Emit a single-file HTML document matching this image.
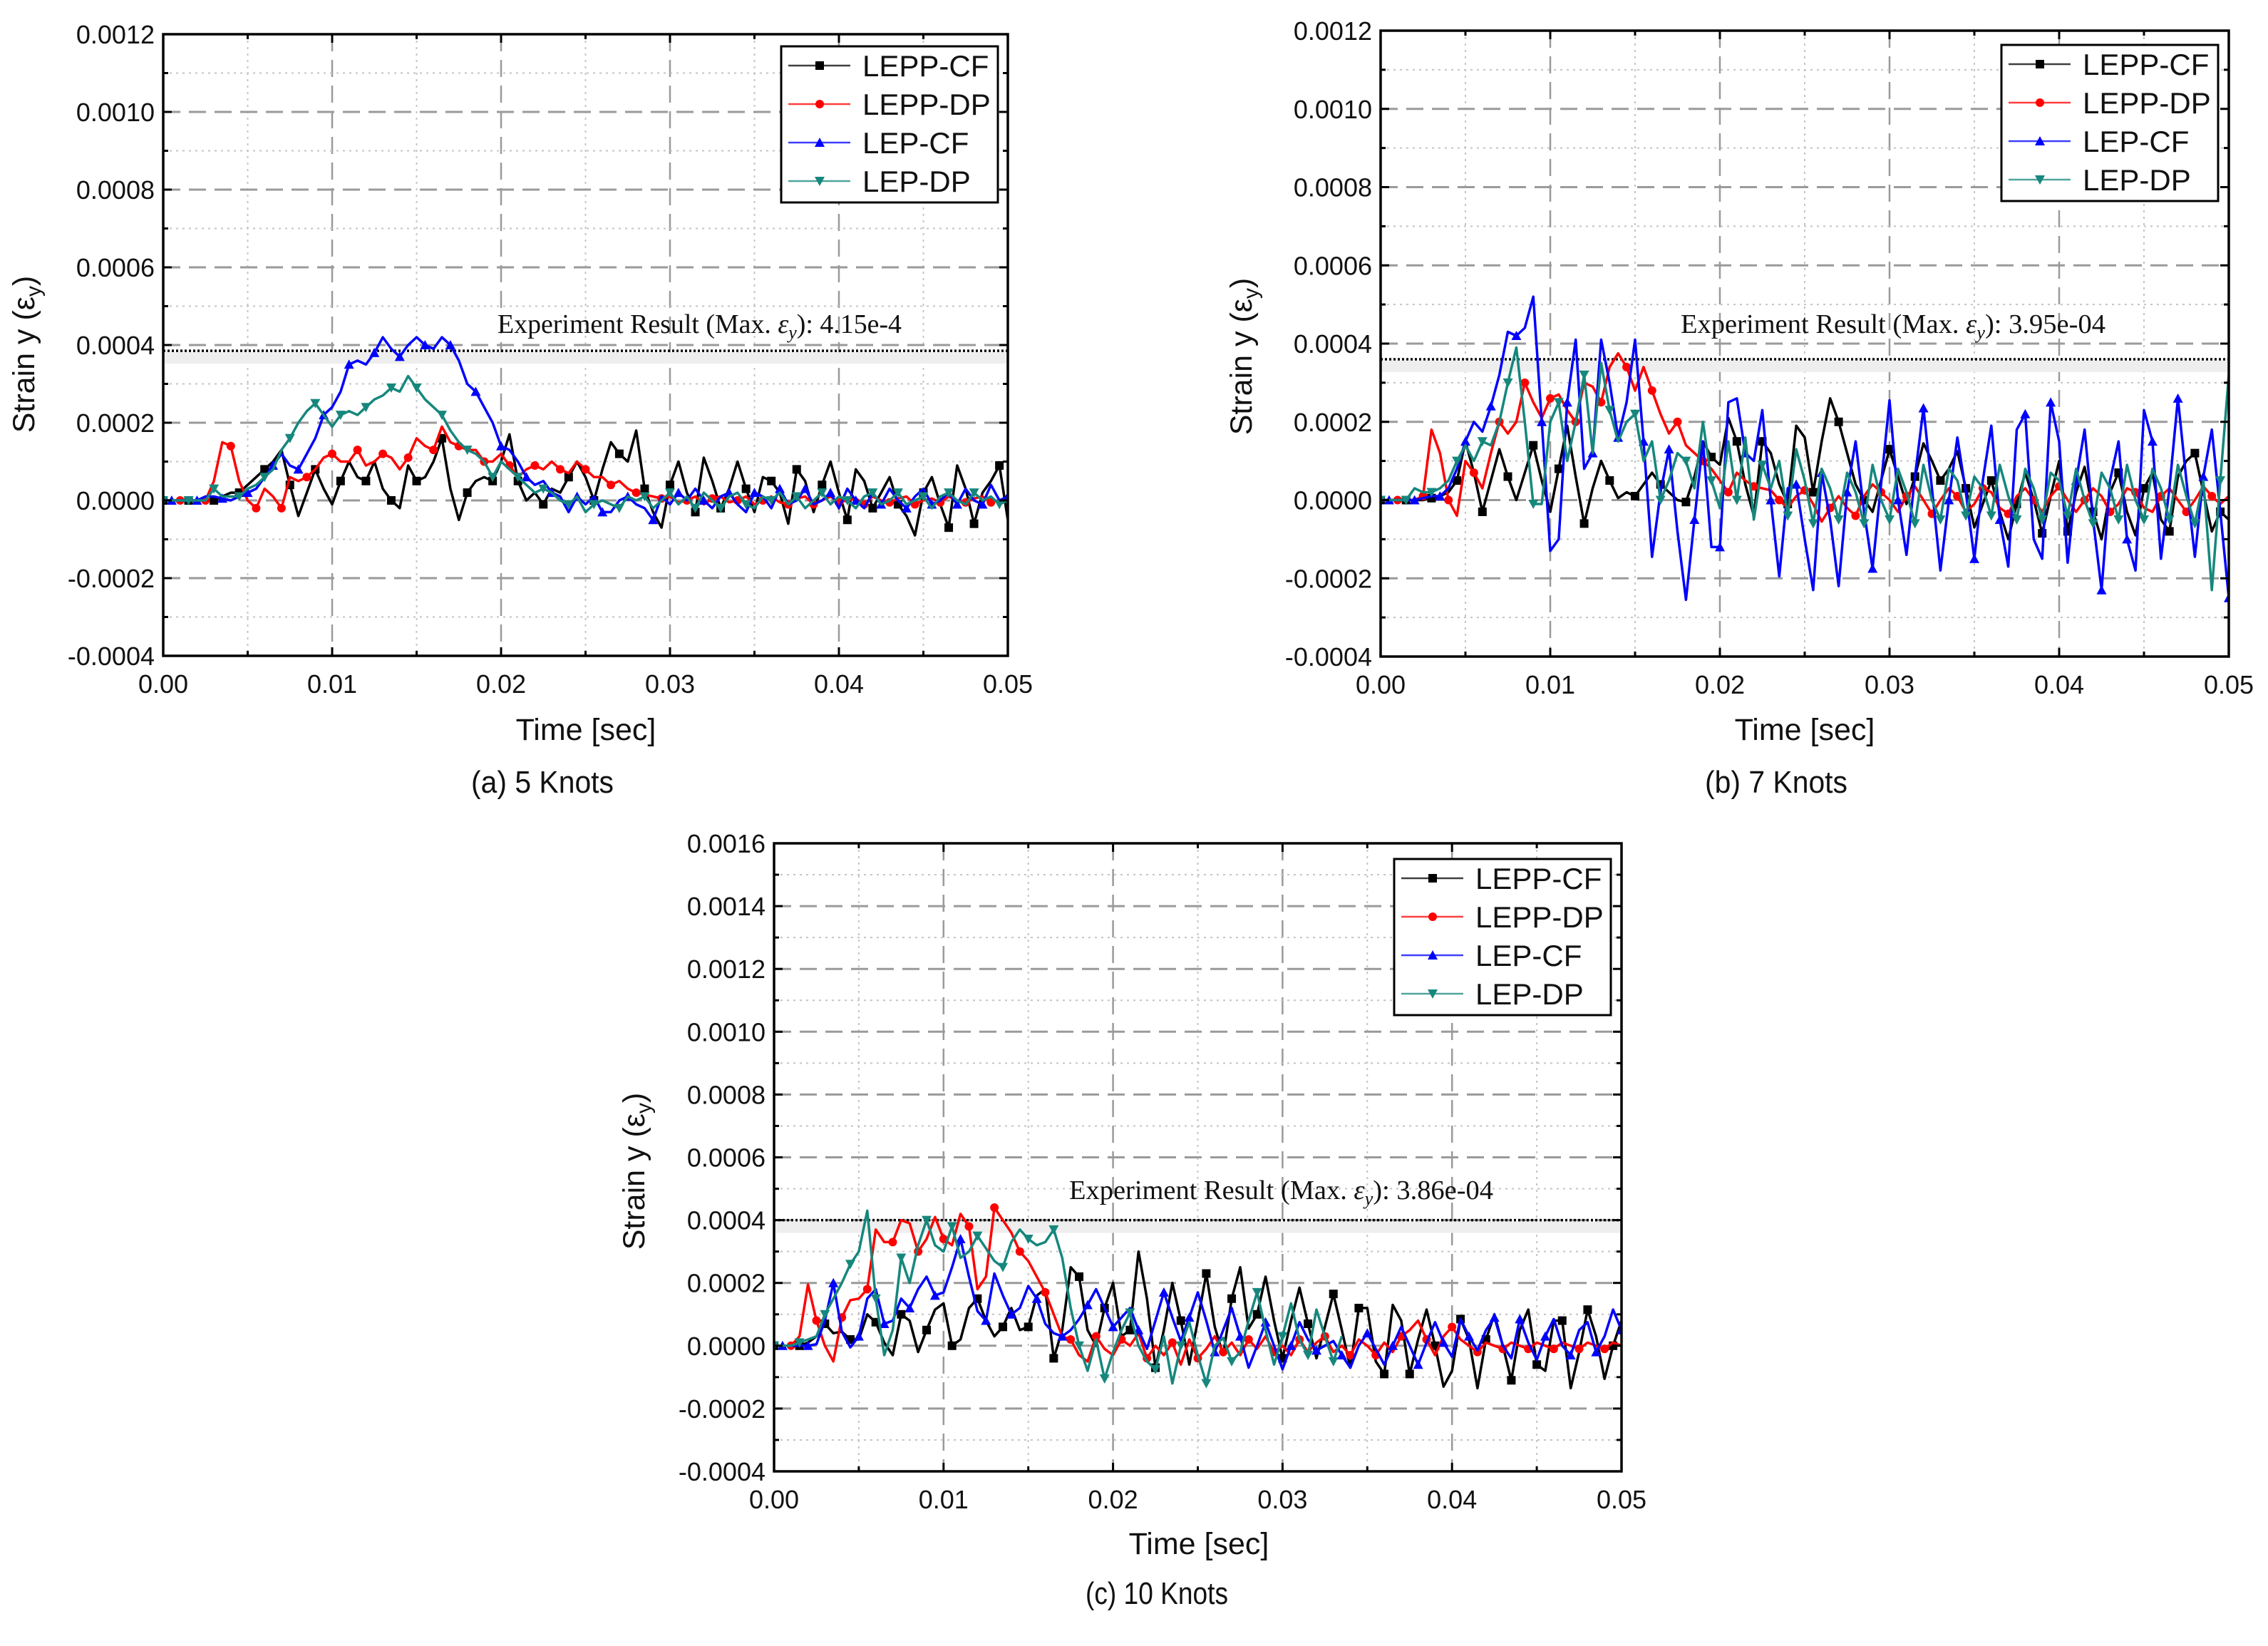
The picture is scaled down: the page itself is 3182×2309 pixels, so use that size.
<!DOCTYPE html>
<html>
<head>
<meta charset="utf-8">
<style>
html,body{margin:0;padding:0;background:#fff;}
svg{display:block;}
</style>
</head>
<body>
<svg id="fig" xmlns="http://www.w3.org/2000/svg" width="3182" height="2309" viewBox="0 0 3182 2309" font-family="Liberation Sans, sans-serif"></svg>
<script>
// Time axis categories (ms), 0.5 ms spacing
const timeMs = [];
for (let i = 0; i <= 100; i++) timeMs.push(i * 0.5);
const seriesNames = ["LEPP-CF", "LEPP-DP", "LEP-CF", "LEP-DP"];
const yTicksA = [-4, -2, 0, 2, 4, 6, 8, 10, 12];
const yTicksC = [-4, -2, 0, 2, 4, 6, 8, 10, 12, 14, 16];
const xTicks = [0, 10, 20, 30, 40, 50];
const expValues = [3.85, 3.6, 4.0];
const expLabels = ["4.15e-4", "3.95e-04", "3.86e-04"];
const captions = ["(a) 5 Knots", "(b) 7 Knots", "(c) 10 Knots"];

// Strain values in units of 1e-4
const a_LEPP_CF = [0,0,0,0,0,0,0,0.1,0.2,0.2, 0.4,0.6,0.8,1.0,1.3,0.4,-0.4,0.2,0.8,0.3, -0.1,0.5,1.0,0.6,0.5,1.0,0.3,0,-0.2,0.9, 0.5,0.6,1.0,1.6,0.3,-0.5,0.2,0.5,0.6,0.5, 1.0,1.7,0.5,0.0,0.2,-0.1,0.3,0.2,0.6,1.0, 0.6,0.0,0.8,1.5,1.2,1.0,1.8,0.3,-0.3,-0.7, 0.4,1.0,0.2,-0.3,1.1,0.5,-0.2,0.3,1.0,0.3, -0.3,0.6,0.5,0.2,-0.6,0.8,0.5,-0.3,0.4,1.0, 0.2,-0.5,0.8,0.5,-0.2,0.2,0.6,-0.1,-0.4,-0.9, 0.2,0.6,-0.1,-0.7,0.9,0.3,-0.6,0.2,0.5,0.9, -0.5];
const a_LEPP_DP = [0,0,0,0,0,0,0.5,1.5,1.4,0.5, 0,-0.2,0.3,0.1,-0.2,0.6,0.5,0.6,0.8,1.1, 1.2,1.0,1.0,1.3,0.9,1.0,1.2,1.1,0.8,1.1, 1.6,1.4,1.3,1.9,1.5,1.4,1.3,1.3,1.0,1.0, 1.2,0.9,0.6,0.8,0.9,0.8,1.0,0.8,0.7,1.0, 0.8,0.6,0.6,0.4,0.5,0.3,0.2,0.15,0.1,0.05, 0.1,-0.05,0,0.1,-0.1,0.05,0.1,-0.05,0,0.1, -0.1,0,0.1,-0.05,-0.1,0.05,0.1,-0.1,0,0.1, -0.05,0,0.05,-0.1,0.1,0,-0.05,0.05,0.1,-0.1, 0,0.05,-0.05,0.1,0,-0.05,0.05,0.1,-0.05,0, 0.05];
const a_LEP_CF = [0,0,0,0,0,0.1,0.1,0.05,0,0.1, 0.2,0.3,0.6,0.9,1.2,0.9,0.8,1.2,1.6,2.2, 2.4,2.8,3.5,3.6,3.5,3.8,4.2,3.9,3.7,4.0, 4.2,4.0,3.9,4.2,4.0,3.6,3.0,2.8,2.4,2.0, 1.4,1.3,1.0,0.6,0.4,0.5,0.2,0.1,-0.3,0.1, -0.1,0.1,-0.3,-0.3,0,0.1,-0.1,-0.2,-0.5,0.1, -0.1,0.2,0,0.3,0,-0.2,0.1,0.2,-0.1,-0.3, 0.2,0.1,-0.2,0.3,-0.1,0,0.3,-0.1,0,0.2, -0.2,0.3,0,-0.2,0.2,-0.1,0.3,0,-0.2,0.1, 0.3,-0.1,0,0.2,-0.1,0.3,0,-0.1,0.4,0, 0.1];
const a_LEP_DP = [0,0,0,0,0,0,0.3,0.1,0.1,0.1, 0.3,0.4,0.6,0.8,1.3,1.6,2.0,2.3,2.5,2.2, 1.9,2.2,2.3,2.2,2.4,2.6,2.7,2.9,2.8,3.2, 2.9,2.6,2.4,2.2,1.8,1.5,1.3,1.2,1.0,0.6, 1.0,0.8,0.6,0.4,0.2,0.3,0.2,0,-0.1,0.1, -0.3,-0.1,0,-0.1,-0.2,0.1,0,0.1,-0.2,0, 0.2,-0.1,0.1,-0.2,0.2,0,-0.2,0.1,0.2,-0.1, -0.2,0.1,0,0.2,-0.1,0.1,-0.2,0,0.2,-0.1, 0.1,0,-0.2,0.1,0.2,-0.1,0,0.2,-0.1,0, 0.1,-0.2,0.1,0.2,0,-0.1,0.2,0,0.1,-0.1, 0];

const b_LEPP_CF = [0,0,0,0,0,0,0.05,0.1,0.2,0.5, 1.5,0.7,-0.3,0.5,1.3,0.6,0,0.7,1.4,0.5, -0.3,0.8,1.9,0.6,-0.6,0.3,1.0,0.5,0.05,0.2, 0.1,0.4,0.7,0.4,0.2,0,-0.05,0.6,1.5,1.1, 0.9,2.1,1.5,0.4,-0.4,1.5,1.2,0.4,-0.1,1.9, 1.6,0.2,1.5,2.6,2.0,1.2,0.4,0,-0.3,0.5, 1.3,0.6,-0.1,0.6,1.45,1.0,0.5,0.8,1.25,0.3, -0.7,-0.1,0.5,-0.3,-1.0,-0.1,0.7,0,-0.85,0.1, 1.0,-0.8,0.2,0.85,-0.3,-1.0,0.2,0.7,-0.3,-0.9, 0.3,0.7,-0.5,-0.8,0.6,1.0,1.2,0.2,-0.8,-0.3, -0.5];
const b_LEPP_DP = [0,0,0,0,0,0.1,1.8,1.2,0,-0.4, 1.0,0.7,0.3,1.2,2.0,1.7,2.0,3.0,2.5,2.1, 2.6,2.7,2.3,2.0,3.0,2.9,2.5,3.4,3.75,3.4, 2.8,3.4,2.8,2.2,1.7,2.0,1.4,1.2,1.0,0.8, 0.5,0.2,0.7,0.5,0.35,0.3,0.25,0,-0.2,0.1, 0.25,-0.1,-0.55,-0.2,0.1,-0.2,-0.4,0.1,0.4,0.2, 0,-0.3,0.1,0.35,0,-0.35,0,0.3,0.1,-0.3, -0.1,0.3,0.2,-0.2,-0.35,0.1,0.3,0,-0.3,0.1, 0.35,0,-0.3,0,0.3,0.1,-0.3,-0.1,0.3,0.2, -0.2,-0.3,0.1,0.3,0,-0.3,0,0.35,0.1,-0.1, 0.1];
const b_LEP_CF = [0,0,0,0,0,0.05,0.1,0.1,0.3,0.8, 1.5,2.0,1.75,2.4,3.2,4.3,4.2,4.4,5.2,2.0, -1.3,-1.0,2.5,4.1,0.8,1.2,4.1,3.0,1.6,2.5, 4.1,1.5,-1.45,0.2,1.3,-0.8,-2.55,-0.5,1.5,-1.2, -1.2,2.5,2.6,1.2,1.0,2.3,0,-1.95,0.3,0.4, -1.0,-2.3,0.7,-0.5,-2.2,0.2,1.5,-0.3,-1.75,0.4, 2.55,0,-1.4,0.6,2.35,0.3,-1.8,0,1.6,0.2, -1.5,0.5,1.9,-0.5,-1.7,1.8,2.2,-1.0,-1.5,2.5, 1.5,-1.6,0.5,1.8,-0.5,-2.3,0.5,1.5,-1.0,-1.8, 2.3,1.5,-1.5,0.3,2.6,0.5,-1.45,0.6,1.8,-0.3, -2.5];
const b_LEP_DP = [0,0,0,0,0.3,0.2,0.2,0.3,0.5,1.0, 1.4,1.0,1.5,1.4,2.0,3.0,3.9,2.0,-0.1,-0.1, 2.0,2.5,1.0,2.0,3.2,1.2,3.5,2.3,1.5,2.0, 2.2,1.0,1.5,0,0.5,1.2,1.0,0.3,2.0,0.5, -0.2,1.5,0,1.6,-0.5,0.9,0.3,1.0,-0.4,1.3, 0.5,-0.6,0.8,0.3,-0.5,0.7,0.2,-0.6,0.9,0, -0.5,0.8,0.2,-0.6,0.9,0,-0.5,0.8,0.5,-0.4, 0.6,0.3,-0.4,0.9,0.1,-0.5,0.8,0.3,-0.5,0.7, 0.5,-0.4,0.8,0,-0.6,0.7,0.3,-0.5,0.9,0, -0.5,0.8,0.3,-0.5,0.9,0.1,-0.6,0.5,-2.3,0.5, 3.2];

const c_LEPP_CF = [0,0,0,0,0.1,0.3,0.7,0.4,0.45,0.2, 0.2,1.0,0.75,0.1,-0.3,1.0,0.8,-0.2,0.5,1.15, 1.35,0,0.2,1.2,1.5,0.8,0.3,0.6,1.2,0.5, 0.6,1.6,1.8,-0.4,0.5,2.5,2.2,0.5,0,1.2, 2.0,0.3,0.5,3.0,1.5,-0.7,0.5,2.0,0.8,-0.6, 0.8,2.3,0.6,-0.3,1.5,2.5,0.55,1.0,2.2,0.8, -0.4,0.8,1.85,0.7,-0.4,0.6,1.65,0.5,-0.7,1.2, 1.2,-0.5,-0.9,1.3,0.8,-0.9,0.2,1.15,0,-1.3, -0.8,0.85,0.2,-1.35,0.2,1.0,0,-1.1,0.5,1.15, -0.6,-0.8,0.8,0.8,-1.35,-0.2,1.15,0.3,-1.05,0, 0.8];
const c_LEPP_DP = [0,0,0,0.3,1.95,0.8,0,-0.5,0.9,1.45, 1.5,1.8,3.7,3.3,3.3,4.0,3.9,3.0,3.4,4.1, 3.4,3.2,4.2,3.8,1.8,2.2,4.4,4.0,3.6,3.0, 2.7,2.2,1.7,1.0,0.3,0.2,-0.3,-0.5,0.3,-0.1, -0.3,0.2,0,0.4,-0.4,0,-0.3,0.1,-0.6,0.2, -0.4,-0.1,0.3,-0.2,0.1,-0.3,0.2,-0.1,0.3,-0.2, 0,-0.3,0.2,-0.2,0.1,0.3,-0.2,0,-0.3,0.2, 0,-0.3,0.1,-0.2,0.3,0.5,0.8,0.2,-0.3,0.3, 0.6,0.2,0,-0.2,0.1,0,-0.1,0.1,0,-0.1, 0.1,0,-0.1,0.1,0,-0.1,0.1,0,-0.1,0.1, 0];
const c_LEP_CF = [0,0,0,0,0,0.05,0.8,2.0,0.45,-0.05, 0.3,1.5,1.8,0.7,0.8,1.5,1.2,1.8,2.2,1.6, 1.7,2.5,3.4,2.2,1.1,0.8,2.3,1.6,1.0,1.2, 1.9,1.5,0.7,0.4,0.3,0.5,0.85,1.3,1.8,1.2, 0.6,0.9,1.2,0.5,-0.1,0.8,1.7,0.9,0.15,0.9, 1.7,0.8,-0.2,0.5,1.2,0.3,-0.7,0,0.75,0, -0.75,0,0.75,0.2,-0.15,0,0.15,-0.3,-0.7,0, 0.4,-0.1,-0.6,0,0.6,0,-0.6,0.1,0.75,0.1, -0.35,0.85,0.3,-0.15,0.5,0.9,0,-0.4,0.85,0.1, -0.45,0.3,0.85,0,-0.3,0.5,0.75,-0.2,0.3,1.15, 0.5];
const c_LEP_DP = [0,0,0,0.1,0.2,0.3,1.0,1.5,2.0,2.6, 3.0,4.3,1.5,-0.3,0.5,2.8,2.0,3.2,4.0,3.2, 3.0,3.8,2.8,3.0,3.5,3.1,2.7,2.5,3.3,3.7, 3.4,3.2,3.3,3.7,2.8,1.2,0,-0.8,0.2,-1.05, -0.2,0.5,1.05,0,-0.5,-0.75,0.3,-1.2,0,0.75, -0.3,-1.2,0,0.25,-0.5,-0.2,0.8,1.7,0.5,-0.6, 0.3,1.35,0.2,-0.3,1.15,0.3,-0.5,0.3,null,null, null,null,null,null,null,null,null,null,null,null, null,null,null,null,null,null,null,null,null,null, null,null,null,null,null,null,null,null,null,null, null];

const seriesColors = ["#000000", "#ff0000", "#0000ff", "#16877d"];
const NS = "http://www.w3.org/2000/svg";
const svg = document.getElementById("fig");

function mk(tag, attrs, parent) {
  const e = document.createElementNS(NS, tag);
  for (const k in attrs) e.setAttribute(k, attrs[k]);
  (parent || svg).appendChild(e);
  return e;
}

const panels = [
  {key:"a", L:229, R:1414, T:48, B:920, ymin:-4, ymax:12, yt:yTicksA, data:[a_LEPP_CF,a_LEPP_DP,a_LEP_CF,a_LEP_DP],
   lab:{x1:698, x2:1265, y:467}, leg:{x:1096, y:65}, ytitle:{x:48, y:497}, xtitle:{x:822, y:1038}, cap:{x:761, y:1112}},
  {key:"b", L:1937, R:3127, T:43, B:921, ymin:-4, ymax:12, yt:yTicksA, data:[b_LEPP_CF,b_LEPP_DP,b_LEP_CF,b_LEP_DP],
   lab:{x1:2358, x2:2954, y:467}, leg:{x:2808, y:63}, ytitle:{x:1756, y:500}, xtitle:{x:2532, y:1038}, cap:{x:2492, y:1112}},
  {key:"c", L:1086, R:2275, T:1183, B:2064, ymin:-4, ymax:16, yt:yTicksC, data:[c_LEPP_CF,c_LEPP_DP,c_LEP_CF,c_LEP_DP],
   lab:{x1:1500, x2:2095, y:1682}, leg:{x:1956, y:1205}, ytitle:{x:904, y:1643}, xtitle:{x:1682, y:2180}, cap:{x:1623, y:2250}}
];

function marker(g, shape, x, y, color) {
  const s = 6;
  let m;
  if (shape === 0) m = mk("rect", {x:x-s, y:y-s, width:2*s, height:2*s, fill:color}, g);
  else if (shape === 1) m = mk("circle", {cx:x, cy:y, r:s, fill:color}, g);
  else if (shape === 2) m = mk("polygon", {points:`${x},${y-s-1} ${x-s-1},${y+s} ${x+s+1},${y+s}`, fill:color}, g);
  else m = mk("polygon", {points:`${x},${y+s+1} ${x-s-1},${y-s} ${x+s+1},${y-s}`, fill:color}, g);
  return m;
}

panels.forEach((p, pi) => {
  const xs = t => p.L + (t / 50) * (p.R - p.L);
  const ys = v => p.B - (v - p.ymin) / (p.ymax - p.ymin) * (p.B - p.T);
  const g = mk("g", {});
  
  

  const grid = mk("g", {}, g);
  
  
  for (let t = 5; t < 50; t += 5) {
    const major = t % 10 === 0;
    mk("line", {x1:xs(t), x2:xs(t), y1:p.T, y2:p.B, stroke: major ? "#9a9a9a" : "#c4c4c4",
      "stroke-width": major ? 2.5 : 2, "stroke-dasharray": major ? "24,12" : "3,6"}, grid);
  }
  for (let v = p.ymin + 1; v < p.ymax; v += 1) {
    const major = v % 2 === 0;
    mk("line", {x1:p.L, x2:p.R, y1:ys(v), y2:ys(v), stroke: major ? "#9a9a9a" : "#c4c4c4",
      "stroke-width": major ? 3 : 2, "stroke-dasharray": major ? "24,12" : "3,6"}, grid);
  }

  const ey = ys(expValues[pi]);
  mk("rect", {x:p.L+2, y:ey+2, width:p.R-p.L-4, height:16, fill:"#eeeeee"}, g);
  const el = mk("line", {x1:p.L, x2:p.R, y1:ey, y2:ey, stroke:"#000", "stroke-width":3.5, "stroke-dasharray":"3,3"}, g);
  
  

  const lt = mk("text", {x:p.lab.x1, y:p.lab.y, "font-family":"Liberation Serif, serif", "font-size":38,
    textLength:p.lab.x2 - p.lab.x1, lengthAdjust:"spacingAndGlyphs", fill:"#111"}, g);
  lt.innerHTML = 'Experiment Result (Max.  <tspan font-style="italic">ε</tspan><tspan font-size="26" dy="8" font-style="italic">y</tspan><tspan dy="-8">): ' + expLabels[pi] + '</tspan>';
  
  

  const clip = mk("clipPath", {id:"clip" + p.key}, g);
  mk("rect", {x:p.L, y:p.T, width:p.R-p.L, height:p.B-p.T}, clip);
  p.data.forEach((arr, si) => {
    const sg = mk("g", {"clip-path":`url(#clip${p.key})`}, g);
    
    
    let d = "", pen = false;
    arr.forEach((v, i) => {
      if (v === null) { pen = false; return; }
      d += (pen ? "L" : "M") + xs(timeMs[i]).toFixed(1) + "," + ys(v).toFixed(1);
      pen = true;
    });
    const path = mk("path", {d:d, fill:"none", stroke:seriesColors[si], "stroke-width":3.5, "stroke-linejoin":"round"}, sg);
    
    
    arr.forEach((v, i) => {
      if (v === null || (i + si) % 3 !== 0) return;
      const m = marker(sg, si, xs(timeMs[i]), ys(v), seriesColors[si]);
      
      
    });
  });

  const fr = mk("rect", {x:p.L, y:p.T, width:p.R-p.L, height:p.B-p.T, fill:"none", stroke:"#000", "stroke-width":3.5}, g);
  
  

  for (let t = 0; t <= 50; t += 5) {
    const len = t % 10 === 0 ? 12 : 7;
    mk("line", {x1:xs(t), x2:xs(t), y1:p.B, y2:p.B-len, stroke:"#000", "stroke-width":3}, g);
    mk("line", {x1:xs(t), x2:xs(t), y1:p.T, y2:p.T+len, stroke:"#000", "stroke-width":3}, g);
  }
  for (let v = p.ymin; v <= p.ymax; v += 1) {
    const len = v % 2 === 0 ? 12 : 7;
    mk("line", {x1:p.L, x2:p.L+len, y1:ys(v), y2:ys(v), stroke:"#000", "stroke-width":3}, g);
    mk("line", {x1:p.R, x2:p.R-len, y1:ys(v), y2:ys(v), stroke:"#000", "stroke-width":3}, g);
  }
  xTicks.forEach(t => {
    const tx = mk("text", {x:xs(t), y:p.B+52, "font-size":36, "text-anchor":"middle", fill:"#111"}, g);
    tx.textContent = (t / 1000).toFixed(2);
    
    
  });
  p.yt.forEach(v => {
    const ty = mk("text", {x:p.L-12, y:ys(v)+13, "font-size":36, "text-anchor":"end", fill:"#111"}, g);
    ty.textContent = (v / 10000).toFixed(4);
    
    
  });

  const xt = mk("text", {x:p.xtitle.x, y:p.xtitle.y, "font-size":43, "text-anchor":"middle", fill:"#111"}, g);
  xt.textContent = "Time [sec]";
  
  
  const yt = mk("text", {x:0, y:0, "font-size":43, "text-anchor":"middle", fill:"#111",
    transform:`translate(${p.ytitle.x},${p.ytitle.y}) rotate(-90)`}, g);
  yt.innerHTML = 'Strain y (ε<tspan font-size="30" dy="9">y</tspan><tspan dy="-9">)</tspan>';
  
  

  const cp = mk("text", {x:p.cap.x, y:p.cap.y, "font-size":44, "text-anchor":"middle", fill:"#111",
    textLength:200, lengthAdjust:"spacingAndGlyphs"}, g);
  cp.textContent = captions[pi];
  
  

  const lg = mk("g", {}, g);
  
  
  mk("rect", {x:p.leg.x, y:p.leg.y, width:304, height:219, fill:"#fff", stroke:"#000", "stroke-width":3}, lg);
  seriesNames.forEach((n, si) => {
    const ry = p.leg.y + 27 + si * 54;
    const en = mk("g", {}, lg);
    
    
    mk("line", {x1:p.leg.x+10, x2:p.leg.x+97, y1:ry, y2:ry, stroke:seriesColors[si], "stroke-width":2.5, opacity:0.75}, en);
    marker(en, si, p.leg.x+54, ry, seriesColors[si]);
    const tx = mk("text", {x:p.leg.x+114, y:ry+15, "font-size":42, fill:"#111"}, en);
    tx.textContent = n;
  });
});
</script>
</body>
</html>
